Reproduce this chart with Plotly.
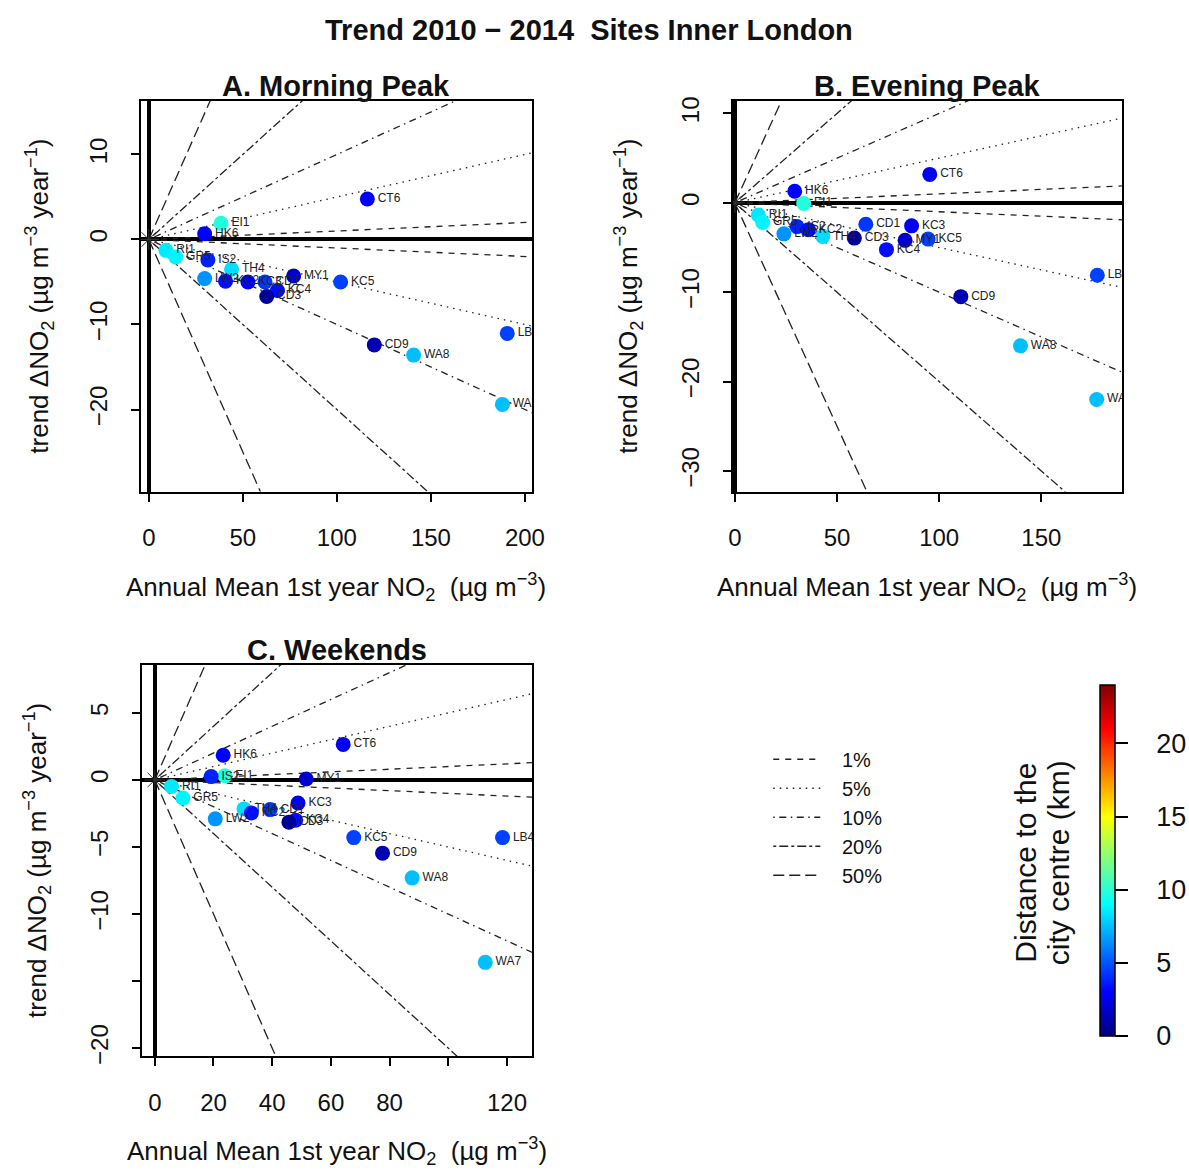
import numpy as np
import plotly.graph_objects as go

# ---------------- data ----------------
sites = ["RI1", "GR5", "EI1", "HK6", "IS2", "TH4", "LW2", "KC2", "KC3", "CD1",
         "MY1", "KC5", "KC4", "CD3", "CT6", "CD9", "WA8", "LB4", "WA7"]
distance_km = [8.5, 8.8, 9.8, 3.0, 3.8, 8.2, 6.5, 3.3, 2.8, 4.3,
               1.8, 4.5, 3.3, 0.5, 2.7, 1.2, 7.5, 4.5, 7.5]

# A. Morning Peak
morning_mean = [9.1, 14.3, 38.4, 29.7, 31.4, 44.0, 29.7, 40.8, 52.7, 61.8,
                77.0, 102.0, 68.4, 62.7, 116.2, 119.9, 140.8, 190.6, 188.0]
morning_trend = [-1.28, -2.05, 1.9, 0.66, -2.4, -3.5, -4.6, -4.9, -5.0, -5.0,
                 -4.3, -5.0, -6.0, -6.7, 4.77, -12.4, -13.6, -11.05, -19.4]
# B. Evening Peak
evening_mean = [11.5, 13.6, 33.7, 29.3, 30.4, 43.0, 24.0, 36.0, 86.5, 64.1,
                83.3, 94.6, 74.2, 58.5, 95.4, 110.6, 139.8, 177.4, 177.1]
evening_trend = [-1.37, -2.2, -0.07, 1.3, -2.66, -3.77, -3.47, -3.0, -2.58, -2.4,
                 -4.2, -4.06, -5.24, -3.95, 3.18, -10.5, -16.0, -8.1, -22.0]
# C. Weekends
weekend_mean = [5.7, 9.6, 23.9, 23.3, 19.2, 30.4, 20.6, 32.9, 48.8, 39.3,
                51.6, 67.8, 48.0, 45.7, 64.2, 77.6, 87.7, 118.5, 112.6]
weekend_trend = [-0.49, -1.35, 0.32, 1.84, 0.25, -2.16, -2.9, -2.46, -1.72, -2.21,
                 0.07, -4.3, -3.0, -3.15, 2.65, -5.46, -7.3, -4.3, -13.6]

percent_lines = [1, 5, 10, 20, 50]
percent_labels = ["1%", "5%", "10%", "20%", "50%"]

panel_titles = ["A. Morning Peak", "B. Evening Peak", "C. Weekends"]

xtick_A = [0, 50, 100, 150, 200]
xtick_B = [0, 50, 100, 150]
xtick_C = [0, 20, 40, 60, 80, 100, 120]
xtick_C_text = ["0", "20", "40", "60", "80", "", "120"]
ytick_A = [-20, -10, 0, 10]
ytick_B = [-30, -20, -10, 0, 10]
ytick_C = [-20, -15, -10, -5, 0, 5]
ytick_C_text = ["\u221220", "", "\u221210", "\u22125", "0", "5"]

cbar_ticks = [0, 5, 10, 15, 20]
cbar_title_lines = ["Distance to the", "city centre (km)"]

# ---------------- styles ----------------
FONT = "Arial, Liberation Sans, sans-serif"
NBSP = "\u00a0"
dash_styles = ["6px,6px", "1.5px,5px", "1.5px,4.5px,7px,4.5px",
               "3px,3px,9px,3px", "11px,5px"]
jet = [[0.0, "#00007F"], [0.125, "#0000FF"], [0.25, "#007FFF"], [0.375, "#00FFFF"],
       [0.5, "#7FFF7F"], [0.625, "#FFFF00"], [0.75, "#FF7F00"], [0.875, "#FF0000"],
       [1.0, "#7F0000"]]

W, H = 1189, 1173
def px_x(a, b):
    return [a / W, b / W]
def px_y(top, bottom):
    return [1 - bottom / H, 1 - top / H]

panels = [
    dict(x=morning_mean, y=morning_trend, xa="x", ya="y",
         xdom=px_x(138, 535), ydom=px_y(98, 493), xr=[-4.2, 203.7], yr=[-29.65, 16.3],
         xt=xtick_A, xtt=[str(v) for v in xtick_A],
         yt=ytick_A, ytt=[str(v).replace("-", "\u2212") for v in ytick_A],
         ytitle_x=35, xtitle_y=590),
    dict(x=evening_mean, y=evening_trend, xa="x2", ya="y2",
         xdom=px_x(739, 1134), ydom=px_y(98, 493), xr=[-1.0, 189.4], yr=[-32.3, 11.4],
         xt=xtick_B, xtt=[str(v) for v in xtick_B],
         yt=ytick_B, ytt=[str(v).replace("-", "\u2212") for v in ytick_B],
         ytitle_x=633, xtitle_y=590),
    dict(x=weekend_mean, y=weekend_trend, xa="x3", ya="y3",
         xdom=px_x(139, 535), ydom=px_y(668, 1064), xr=[-4.4, 128.5], yr=[-20.6, 8.6],
         xt=xtick_C, xtt=xtick_C_text, yt=ytick_C, ytt=ytick_C_text,
         ytitle_x=33, xtitle_y=1160),
]

fig = go.Figure()
annotations = []
layout_axes = {}

for i, p in enumerate(panels):
    xmax_line = 1000.0
    xs = np.array([0.0, xmax_line])
    for k, pct in enumerate(percent_lines):
        for sign in (1, -1):
            fig.add_trace(go.Scatter(
                x=xs, y=sign * pct / 100.0 * xs, mode="lines",
                line=dict(color="#222222", width=1.3, dash=dash_styles[k]),
                xaxis=p["xa"], yaxis=p["ya"], hoverinfo="skip",
                name=NBSP * 3 + percent_labels[k], legendgroup=percent_labels[k],
                showlegend=(i == 0 and sign == 1)))
    # origin star
    fig.add_trace(go.Scatter(
        x=[0], y=[0], mode="markers",
        marker=dict(symbol="asterisk-open", size=17, color="#333333",
                    line=dict(color="#333333", width=1)),
        xaxis=p["xa"], yaxis=p["ya"], showlegend=False, hoverinfo="skip"))
    # sites
    fig.add_trace(go.Scatter(
        x=p["x"], y=p["y"], mode="markers+text", text=sites,
        textposition="middle right",
        textfont=dict(family=FONT, size=12, color="#222222"),
        marker=dict(size=15, color=distance_km, coloraxis="coloraxis", line=dict(width=0)),
        xaxis=p["xa"], yaxis=p["ya"], showlegend=False, cliponaxis=True))

    xkey = "xaxis" + ("" if i == 0 else str(i + 1))
    ykey = "yaxis" + ("" if i == 0 else str(i + 1))
    layout_axes[xkey] = dict(
        domain=p["xdom"], range=p["xr"], anchor=p["ya"],
        showgrid=False, zeroline=True, zerolinecolor="black", zerolinewidth=4,
        showline=True, linecolor="black", linewidth=2, mirror=True,
        ticks="outside", ticklen=8, tickcolor="black", tickwidth=1.5,
        tickvals=p["xt"], ticktext=p["xtt"], ticklabelstandoff=16,
        tickfont=dict(family=FONT, size=24, color="#111111"))
    layout_axes[ykey] = dict(
        domain=p["ydom"], range=p["yr"], anchor=p["xa"],
        showgrid=False, zeroline=True, zerolinecolor="black", zerolinewidth=4,
        showline=True, linecolor="black", linewidth=2, mirror=True,
        ticks="outside", ticklen=8, tickcolor="black", tickwidth=1.5,
        tickvals=p["yt"], ticktext=p["ytt"], tickangle=-90, ticklabelstandoff=14,
        tickfont=dict(family=FONT, size=24, color="#111111"))

    dom_x = p["xa"] + " domain"
    dom_y = p["ya"] + " domain"
    annotations.append(dict(
        text="<b>" + panel_titles[i] + "</b>", xref=dom_x, yref=dom_y, x=0.5, y=1.0,
        xanchor="center", yanchor="bottom", yshift=-3, showarrow=False,
        font=dict(family=FONT, size=29, color="#111111")))
    annotations.append(dict(
        text="Annual Mean 1st year NO<sub>2</sub>  (\u00b5g m<sup>\u22123</sup>)",
        xref=dom_x, yref="paper", x=0.5, y=1 - p["xtitle_y"] / H,
        xanchor="center", yanchor="middle", showarrow=False,
        font=dict(family=FONT, size=26, color="#111111")))
    annotations.append(dict(
        text="trend \u0394NO<sub>2</sub> (\u00b5g m<sup>\u22123</sup> year<sup>\u22121</sup>)",
        xref="paper", yref=dom_y, x=p["ytitle_x"] / W, y=0.5, textangle=-90,
        xanchor="center", yanchor="middle", showarrow=False,
        font=dict(family=FONT, size=26, color="#111111")))

annotations.append(dict(
    text="<b>Trend 2010 \u2212 2014  Sites Inner London</b>", xref="paper", yref="paper",
    x=593 / W, y=1 - 26 / H, xanchor="center", yanchor="middle", showarrow=False,
    font=dict(family=FONT, size=29, color="#111111")))
for j, line_txt in enumerate(cbar_title_lines):
    annotations.append(dict(
        text=line_txt, xref="paper", yref="paper",
        x=(1036 + 34 * j) / W, y=1 - 868 / H, textangle=-90,
        xanchor="center", yanchor="middle",
        showarrow=False, font=dict(family=FONT, size=30, color="#111111")))

fig.update_layout(
    width=W, height=H, margin=dict(l=0, r=0, t=0, b=0),
    paper_bgcolor="white", plot_bgcolor="white",
    font=dict(family=FONT, color="#111111"),
    coloraxis=dict(
        colorscale=jet, cmin=0, cmax=24,
        colorbar=dict(
            x=1112 / W, xanchor="left", y=1 - 866 / H, yanchor="middle",
            len=355 / H, lenmode="fraction", thickness=15, thicknessmode="pixels",
            xpad=0, ypad=0, outlinecolor="black", outlinewidth=1.5,
            tickvals=cbar_ticks, ticktext=[NBSP * 3 + str(v) for v in cbar_ticks],
            ticks="outside", ticklen=13, tickcolor="black", tickwidth=1.5,
            tickfont=dict(family=FONT, size=27, color="#111111"))),
    legend=dict(
        x=775 / W, y=1 - 744 / H, xanchor="left", yanchor="top",
        bgcolor="rgba(0,0,0,0)", font=dict(family=FONT, size=20, color="#111111"),
        tracegroupgap=0, traceorder="normal", itemwidth=47),
    annotations=annotations,
    **layout_axes)

fig.write_html("out.html")
